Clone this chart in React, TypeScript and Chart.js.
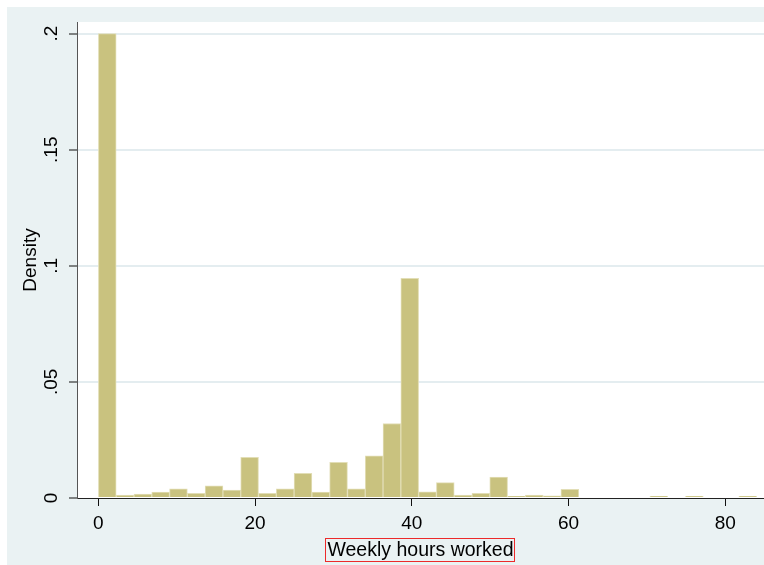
import { useEffect, useRef } from 'react';
import { Chart, registerables } from 'chart.js';

Chart.register(...registerables);

// Histogram of weekly hours worked: 37 equal bins over [0, 84]
const binLow = 0;
const binHigh = 84;
const densities = [
  0.2, 0.0013, 0.0017, 0.0025, 0.0039, 0.002, 0.0052, 0.0034, 0.0175, 0.002,
  0.0039, 0.0106, 0.0025, 0.0154, 0.004, 0.0182, 0.0321, 0.0946, 0.0027, 0.0066,
  0.0013, 0.002, 0.009, 0.0007, 0.0013, 0.0009, 0.0037, 0, 0, 0,
  0, 0.0007, 0, 0.0007, 0, 0, 0.0007,
];
const xTicks = [0, 20, 40, 60, 80];
const xTickLabels = ['0', '20', '40', '60', '80'];
const yTicks = [0, 0.05, 0.1, 0.15, 0.2];
const yTickLabels = ['0', '.05', '.1', '.15', '.2'];
const xTitle = 'Weekly hours worked';
const yTitle = 'Density';

const FONT = '"Liberation Sans", Arial, sans-serif';

export default function App() {
  const ref = useRef<HTMLCanvasElement>(null);

  useEffect(() => {
    const canvas = ref.current;
    if (!canvas) return;
    const binWidth = (binHigh - binLow) / densities.length;
    const points = densities.map((d, i) => ({ x: binLow + (i + 0.5) * binWidth, y: d }));

    const bgPlugin = {
      id: 'bgPlugin',
      beforeDraw(chart: any) {
        const { ctx, chartArea: a, width, height } = chart;
        ctx.save();
        ctx.fillStyle = '#eaf2f3';
        ctx.fillRect(0, 0, width, height);
        ctx.fillStyle = '#ffffff';
        ctx.fillRect(a.left, a.top, a.right - a.left, a.bottom - a.top);
        ctx.restore();
      },
    };

    const xTitlePlugin = {
      id: 'xTitlePlugin',
      afterDraw(chart: any) {
        const { ctx, chartArea: a } = chart;
        ctx.save();
        ctx.font = `19.5px ${FONT}`;
        ctx.fillStyle = '#000';
        ctx.textAlign = 'center';
        ctx.textBaseline = 'alphabetic';
        const cx = (a.left + a.right) / 2;
        const by = a.bottom + 58;
        ctx.fillText(xTitle, cx, by);
        const w = ctx.measureText(xTitle).width;
        ctx.strokeStyle = '#ec2a2a';
        ctx.lineWidth = 1;
        ctx.strokeRect(Math.round(cx - w / 2 - 2) + 0.5, a.bottom + 40.5, Math.round(w + 3), 23);
        ctx.restore();
      },
    };

    const chart = new Chart(canvas, {
      type: 'bar',
      data: {
        datasets: [
          {
            data: points as any,
            backgroundColor: 'rgb(201,194,127)',
            borderColor: 'rgb(226,222,182)',
            borderWidth: 1,
            barPercentage: 1,
            categoryPercentage: 1,
          },
        ],
      },
      options: {
        responsive: false,
        animation: false,
        devicePixelRatio: 1,
        layout: { padding: { top: 15, left: 0, right: 0, bottom: 0 } },
        plugins: {
          legend: { display: false },
          tooltip: { enabled: false },
        },
        scales: {
          x: {
            type: 'linear',
            min: -2.73,
            max: 84.94,
            offset: false,
            afterBuildTicks: (s: any) => {
              s.ticks = xTicks.map((v) => ({ value: v }));
            },
            afterFit: (s: any) => {
              s.height = 67;
              s.paddingLeft = 0;
              s.paddingRight = 0;
            },
            ticks: {
              callback: (_v: any, i: number) => xTickLabels[i],
              minRotation: 0,
              maxRotation: 0,
              padding: 6,
              color: '#000',
              font: { family: FONT, size: 19 },
            },
            grid: {
              display: true,
              offset: false,
              drawOnChartArea: false,
              drawTicks: true,
              tickLength: 8,
              tickColor: '#111',
              tickWidth: 1,
            },
            border: { color: '#222', width: 1 },
          },
          y: {
            type: 'linear',
            min: 0,
            max: 0.205,
            afterBuildTicks: (s: any) => {
              s.ticks = yTicks.map((v) => ({ value: v }));
            },
            afterFit: (s: any) => {
              s.width = 70;
              s.paddingTop = 0;
              s.paddingBottom = 0;
            },
            ticks: {
              callback: (_v: any, i: number) => yTickLabels[i],
              minRotation: 90,
              maxRotation: 90,
              crossAlign: 'center',
              padding: 4,
              color: '#000',
              font: { family: FONT, size: 19 },
            },
            grid: {
              color: (c: any) => (c.tick && c.tick.value === 0 ? 'rgba(0,0,0,0)' : '#e4edf0'),
              lineWidth: 2,
              drawTicks: true,
              tickLength: 8,
              tickColor: '#111',
              tickWidth: 1,
            },
            border: { color: '#555', width: 1 },
            title: {
              display: true,
              text: yTitle,
              color: '#000',
              font: { family: FONT, size: 19 },
              padding: { top: 12, bottom: 0 },
            },
          },
        },
      } as any,
      plugins: [bgPlugin, xTitlePlugin],
    });

    return () => chart.destroy();
  }, []);

  return (
    <canvas
      ref={ref}
      width={757}
      height={558}
      style={{ position: 'fixed', left: 7, top: 7, width: 757, height: 558 }}
    />
  );
}
